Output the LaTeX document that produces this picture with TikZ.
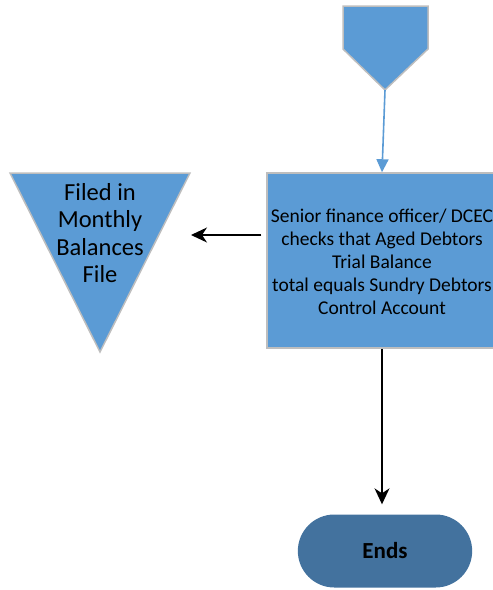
\documentclass[tikz,border=0pt]{standalone}
\usepackage{fontspec}
\setmainfont{Carlito}
\usetikzlibrary{arrows.meta,shapes.misc}
\definecolor{boxblue}{RGB}{91,155,213}
\definecolor{endblue}{RGB}{67,114,158}
\definecolor{edgegray}{RGB}{190,190,190}

\begin{document}
\begin{tikzpicture}[x=1pt,y=-1pt,
  shapefill/.style={fill=boxblue,draw=edgegray,line width=1.5pt},
  flowarrow/.style={-{Stealth[length=16pt,width=15pt,inset=5pt]},line width=1.3pt}]
\useasboundingbox (0,0) rectangle (493,590);
\clip (0,0) rectangle (493,590);

% Off-page connector
\filldraw[shapefill] (343,6) -- (428,6) -- (428,49) -- (385,90) -- (343,49) -- cycle;
\coordinate (offpage) at (385,90);

% Check box
\node[shapefill, minimum width=230pt, minimum height=175pt, align=center,
  font=\fontsize{19.5}{23}\selectfont] (check) at (382,260.5)
  {\strut Senior finance officer/ DCEC\\checks that Aged Debtors\\Trial Balance\\total equals Sundry Debtors\\Control Account};

% Filed triangle
\filldraw[shapefill] (10,173) -- (190,173) -- (100,352) -- cycle;
\node[align=center, font=\fontsize{24.5}{27.5}\selectfont] (filed) at (100,233)
  {Filed in\\Monthly\\Balances\\File};
\coordinate (filedtip) at (191,235);

% End
\node[rounded rectangle, fill=endblue, minimum width=181pt, minimum height=73pt,
  font=\fontsize{23}{26}\selectfont\bfseries] (ends) at (385,551) {Ends};

% Connectors
\draw[-{Triangle[length=13pt,width=12pt]}, boxblue, line width=1.6pt] (offpage) -- (check.north);
\draw[flowarrow] ([xshift=-5pt]check.west |- filedtip) -- (filedtip);
\draw[flowarrow, shorten >=10pt] (check.south) -- (check.south |- ends.north);

\end{tikzpicture}
\end{document}
